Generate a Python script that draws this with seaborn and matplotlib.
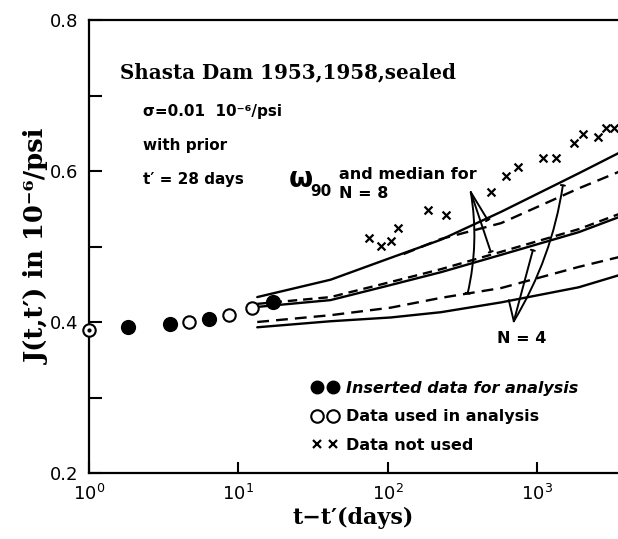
import numpy as np
import pandas as pd
import matplotlib
matplotlib.use("Agg")
import matplotlib.pyplot as plt
import seaborn as sns
from matplotlib.lines import Line2D

# ---------------- data ----------------
t_open = [1.0, 4.7, 8.6, 12.4]
J_open = [0.389, 0.400, 0.409, 0.418]
t_filled = [1.83, 3.5, 6.4, 17.2]
J_filled = [0.393, 0.397, 0.404, 0.426]
t_cross = [74.6, 89.8, 105, 117, 188, 245, 490, 617, 745, 1097, 1350, 1780, 2040, 2570, 2900, 3300]
J_cross = [0.511, 0.501, 0.507, 0.524, 0.548, 0.542, 0.572, 0.593, 0.605, 0.617, 0.617,
           0.637, 0.649, 0.645, 0.657, 0.657]

t_curve = [13.4, 41.5, 105, 228, 577, 1910, 3550]
J_upper_solid = [0.433, 0.456, 0.485, 0.509, 0.546, 0.597, 0.624]
J_middle_solid = [0.420, 0.429, 0.449, 0.466, 0.489, 0.519, 0.539]
J_middle_dash = [0.424, 0.433, 0.453, 0.470, 0.493, 0.523, 0.543]
J_lower_dash = [0.400, 0.409, 0.419, 0.432, 0.445, 0.473, 0.486]
J_bottom_solid = [0.393, 0.401, 0.406, 0.413, 0.426, 0.446, 0.462]
t_upper_dash = [128, 228, 577, 1910, 3550]
J_upper_dash = [0.490, 0.510, 0.531, 0.577, 0.599]

y_ticks = [0.2, 0.4, 0.6, 0.8]
y_minor = [0.3, 0.5, 0.7]
x_ticks = [1, 10, 100, 1000]

# ---------------- figure ----------------
sns.set_style("ticks")
plt.rcParams['font.family'] = ['DejaVu Sans']
for k in ['text.color', 'axes.labelcolor', 'xtick.color', 'ytick.color', 'axes.edgecolor']:
    plt.rcParams[k] = 'black'
fig = plt.figure(figsize=(6.18, 5.39), dpi=100)
ax = fig.add_axes([89/618, 66/539, 1 - 89/618, 453/539])

lw = 1.7
for tt, jj, ls in [(t_curve, J_upper_solid, '-'),
                   (t_curve, J_middle_solid, '-'),
                   (t_curve, J_bottom_solid, '-'),
                   (t_curve, J_middle_dash, (0, (4, 2.5))),
                   (t_curve, J_lower_dash, (0, (5, 3))),
                   (t_upper_dash, J_upper_dash, (0, (5, 3)))]:
    sns.lineplot(x=tt, y=jj, ax=ax, color='k', lw=lw, linestyle=ls,
                 estimator=None, sort=False)

sns.scatterplot(x=t_filled, y=J_filled, ax=ax, marker='o', s=95, color='k',
                edgecolor='k', linewidth=1.2, zorder=5)
sns.scatterplot(x=t_open, y=J_open, ax=ax, marker='o', s=80, color='white',
                edgecolor='k', linewidth=1.5, zorder=5, clip_on=False)
ax.plot([1.0], [0.389], marker='o', ms=2, color='k', clip_on=False, zorder=6)
sns.scatterplot(x=t_cross, y=J_cross, ax=ax, marker='x', s=32, color='k',
                linewidth=1.6, zorder=5)

ax.set_xscale('log')
ax.set_xlim(1, 10 ** (3 + 81 / 149))
ax.set_ylim(0.2, 0.8)
ax.set_xticks(x_ticks)
ax.xaxis.set_minor_locator(matplotlib.ticker.NullLocator())
ax.set_yticks(y_ticks)
ax.set_yticklabels([f"{v:.1f}" for v in y_ticks])
ax.set_yticks(y_minor, minor=True)
ax.tick_params(axis='both', which='both', direction='in', width=1.5, labelsize=13)
ax.tick_params(axis='y', which='both', length=9)
ax.tick_params(axis='x', which='major', length=8, pad=8)
ax.tick_params(axis='y', which='major', pad=8)
for s in ['left', 'bottom', 'top']:
    ax.spines[s].set_linewidth(1.6)
ax.spines['right'].set_visible(False)

serif = dict(family='DejaVu Serif', fontweight='bold')
ax.set_ylabel("J(t,t\u2032) in 10\u207b\u2076/psi", fontsize=18.5, labelpad=0, **serif)
ax.set_xlabel("t\u2212t\u2032(days)", fontsize=16, labelpad=2, **serif)

ax.text(0.059, 0.885, "Shasta Dam 1953,1958,sealed", transform=ax.transAxes,
        fontsize=14.3, va='center', ha='left', **serif)
ax.text(0.102, 0.797, "\u03c3=0.01  10\u207b\u2076/psi", transform=ax.transAxes,
        fontsize=11, va='center', ha='left', fontweight='bold')
ax.text(0.102, 0.724, "with prior", transform=ax.transAxes,
        fontsize=11, va='center', ha='left', fontweight='bold')
ax.text(0.102, 0.647, "t\u2032 = 28 days", transform=ax.transAxes,
        fontsize=11, va='center', ha='left', fontweight='bold')

ax.text(0.378, 0.650, "\u03c9", transform=ax.transAxes, fontsize=20,
        fontweight='bold', va='center', ha='left')
ax.text(0.418, 0.622, "90", transform=ax.transAxes, fontsize=11,
        fontweight='bold', va='center', ha='left')
ax.text(0.473, 0.660, "and median for", transform=ax.transAxes, fontsize=11.5,
        fontweight='bold', va='center', ha='left')
ax.text(0.473, 0.616, "N = 8", transform=ax.transAxes, fontsize=11.5,
        fontweight='bold', va='center', ha='left')
ax.text(0.771, 0.297, "N = 4", transform=ax.transAxes, fontsize=11.5,
        fontweight='bold', va='center', ha='left')

# annotation brackets / leaders
tb = dict(arrowstyle='-[, widthB=0.15, lengthB=0.0', lw=1.4, color='k', shrinkA=0, shrinkB=0)
ap8 = (361, 0.572)
ax.annotate('', xy=(469, 0.535), xytext=ap8, arrowprops=tb)
ax.annotate('', xy=(491, 0.493), xytext=ap8, arrowprops=tb)
ax.annotate('', xy=(344, 0.438), xytext=ap8,
            arrowprops=dict(tb, connectionstyle='arc3,rad=-0.1'))
ap4 = (701, 0.401)
ax.annotate('', xy=(940, 0.495), xytext=ap4, arrowprops=tb)
ax.annotate('', xy=(1494, 0.581), xytext=ap4,
            arrowprops=dict(tb, connectionstyle='arc3,rad=0.1'))
ax.annotate('', xy=(649, 0.429), xytext=ap4,
            arrowprops=dict(arrowstyle='-', lw=1.4, color='k', shrinkA=0, shrinkB=0))

handles = [Line2D([], [], ls='', marker='o', ms=9, color='k'),
           Line2D([], [], ls='', marker='o', ms=9, mfc='white', mec='k', mew=1.5),
           Line2D([], [], ls='', marker='x', ms=5.5, color='k', mew=1.6)]
labels = ["Inserted data for analysis", "Data used in analysis", "Data not used"]
leg = ax.legend(handles, labels, numpoints=2, frameon=False, loc='lower left',
                bbox_to_anchor=(0.41, 0.03), handlelength=1.6, handletextpad=0.5,
                labelspacing=0.85, prop=dict(size=11.5, weight='bold'),
                borderaxespad=0)
leg.get_texts()[0].set_style('italic')

fig.savefig("out.png", dpi=100)
